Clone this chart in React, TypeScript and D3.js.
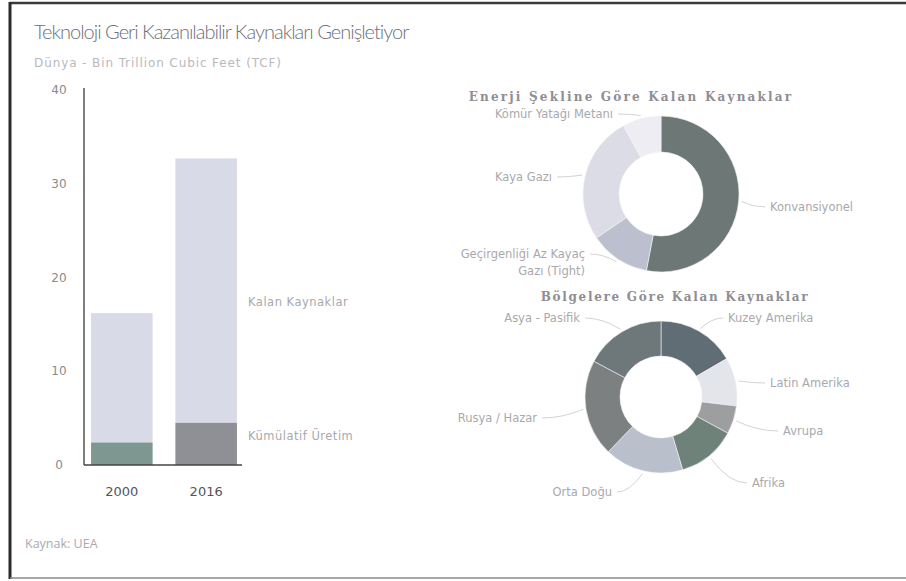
import React from "react";
import * as d3 from "d3";

const years = ["2000", "2016"];
const cumulativeProduction = [2.4, 4.5];
const remainingResources = [13.8, 28.2];
const yTicks = [0, 10, 20, 30, 40];

const energyTypes = ["Konvansiyonel", "Geçirgenliği Az Kayaç Gazı (Tight)", "Kaya Gazı", "Kömür Yatağı Metanı"];
const energyShares = [53, 12.5, 26.5, 8];

const regions = ["Kuzey Amerika", "Latin Amerika", "Avrupa", "Afrika", "Orta Doğu", "Rusya / Hazar", "Asya - Pasifik"];
const regionShares = [16.6, 10.3, 6, 12.5, 16.8, 20.6, 17.2];

const energyColors = ["#6d7776", "#bcbfcd", "#dcdce7", "#ededf3"];
const regionColors = ["#616d74", "#e4e4eb", "#9c9e9f", "#6f8279", "#b9c0cc", "#7c8081", "#6e787b"];

const font = "'DejaVu Sans', Verdana, sans-serif";
const labelColor = "#a9a9ad";

// label anchor points (layout only)
const energyLabelPos = [
  { x: 770, y: 211, anchor: "start" },
  { x: 585, y: 258, anchor: "end" },
  { x: 552, y: 181, anchor: "end" },
  { x: 613, y: 118, anchor: "end" },
];
const regionLabelPos = [
  { x: 728, y: 322, anchor: "start" },
  { x: 770, y: 387, anchor: "start" },
  { x: 783, y: 435, anchor: "start" },
  { x: 752, y: 487, anchor: "start" },
  { x: 612, y: 496, anchor: "end" },
  { x: 537, y: 422, anchor: "end" },
  { x: 580, y: 322, anchor: "end" },
];

function Donut({ names, values, colors, cx, cy, outer, inner, title, titleX, titleY, titleSpacing, labels }: any) {
  const slices = d3.pie<number>().sort(null).value((d) => d)(values);
  const arcGen = d3.arc<any>().innerRadius(inner).outerRadius(outer);
  return (
    <g>
      <text x={titleX} y={titleY} textAnchor="middle" fontFamily="'DejaVu Serif', serif" fontWeight="bold" fontSize={12} letterSpacing={titleSpacing} fill="#8e8e94">
        {title}
      </text>
      <g transform={`translate(${cx},${cy})`}>
        {slices.map((s, i) => (
          <path key={i} d={arcGen(s) || ""} fill={colors[i]} stroke="#f4f4f6" strokeWidth={0.6} />
        ))}
      </g>
      {slices.map((s, i) => {
        const mid = (s.startAngle + s.endAngle) / 2;
        const px = cx + Math.sin(mid) * (outer + 3);
        const py = cy - Math.cos(mid) * (outer + 3);
        const lp = labels[i];
        const lx = lp.anchor === "start" ? lp.x - 5 : lp.x + 5;
        const words = names[i].includes("(Tight)") ? ["Geçirgenliği Az Kayaç", "Gazı (Tight)"] : [names[i]];
        return (
          <g key={i}>
            <path d={`M${px},${py} Q${(px + lx) / 2},${lp.y - 4} ${lx},${lp.y - 4}`} fill="none" stroke="#d3d3d8" strokeWidth={1} />
            <text x={lp.x} y={lp.y} textAnchor={lp.anchor} fontFamily={font} fontSize={11.5} fill={labelColor}>
              {words.map((w, k) => (
                <tspan key={k} x={lp.x} dy={k === 0 ? 0 : 17}>{w}</tspan>
              ))}
            </text>
          </g>
        );
      })}
    </g>
  );
}

export default function App() {
  const width = 906;
  const height = 581;

  const y = d3.scaleLinear().domain([0, 40]).range([465, 90]);
  const x = d3.scaleBand().domain(years).range([86, 242]).paddingInner(0.27).paddingOuter(0.06);

  return (
    <svg width={width} height={height} style={{ position: "absolute", left: 0, top: 0, background: "#fff" }}>
      {/* scan frame */}
      <line x1={10} y1={3} x2={906} y2={3} stroke="#3a3a3a" strokeWidth={2.5} />
      <line x1={10} y1={2} x2={10} y2={579} stroke="#2a2a2a" strokeWidth={3} />
      <line x1={10} y1={578} x2={906} y2={578} stroke="#8a8a8a" strokeWidth={1.5} />

      <text x={34} y={39} fontFamily="Lato, sans-serif" fontWeight={300} fontSize={20} letterSpacing={-1} fill="#6f6f78">
        Teknoloji Geri Kazanılabilir Kaynakları Genişletiyor
      </text>
      <text x={34} y={67} fontFamily={font} fontSize={12} letterSpacing={0.9} fill="#b9b9be">
        Dünya - Bin Trillion Cubic Feet (TCF)
      </text>

      {/* bar chart */}
      {yTicks.map((t) => (
        <text key={t} x={59} y={y(t) + 4} textAnchor="middle" fontFamily={font} fontSize={12} fill="#8a8a8e">
          {t}
        </text>
      ))}
      {years.map((yr, i) => (
        <g key={yr}>
          <rect x={x(yr)} width={x.bandwidth()} y={y(cumulativeProduction[i] + remainingResources[i])}
            height={y(cumulativeProduction[i]) - y(cumulativeProduction[i] + remainingResources[i])} fill="#d9dae7" />
          <rect x={x(yr)} width={x.bandwidth()} y={y(cumulativeProduction[i])}
            height={y(0) - y(cumulativeProduction[i])} fill={i === 0 ? "#7e9891" : "#8e9096"} />
          <text x={(x(yr) as number) + x.bandwidth() / 2} y={496} textAnchor="middle" fontFamily={font} fontSize={13} fill="#555">
            {yr}
          </text>
        </g>
      ))}
      <line x1={84} y1={88} x2={84} y2={y(0)} stroke="#555" strokeWidth={1.5} />
      <line x1={84} y1={y(0)} x2={242} y2={y(0)} stroke="#444" strokeWidth={1.5} />
      <text x={248} y={306} fontFamily={font} fontSize={11.5} letterSpacing={0.5} fill={labelColor}>Kalan Kaynaklar</text>
      <text x={248} y={440} fontFamily={font} fontSize={11.5} letterSpacing={0.5} fill={labelColor}>Kümülatif Üretim</text>

      <Donut names={energyTypes} values={energyShares} colors={energyColors} cx={661} cy={194} outer={78} inner={42}
        title="Enerji Şekline Göre Kalan Kaynaklar" titleX={631} titleY={101} titleSpacing={2.2} labels={energyLabelPos} />
      <Donut names={regions} values={regionShares} colors={regionColors} cx={661} cy={397} outer={76} inner={41}
        title="Bölgelere Göre Kalan Kaynaklar" titleX={675} titleY={301} titleSpacing={1.7} labels={regionLabelPos} />

      <text x={25} y={548} fontFamily="'Liberation Sans Narrow', 'Open Sans', sans-serif" fontSize={12.5} fill="#a9a9ad">
        Kaynak: UEA
      </text>
    </svg>
  );
}
